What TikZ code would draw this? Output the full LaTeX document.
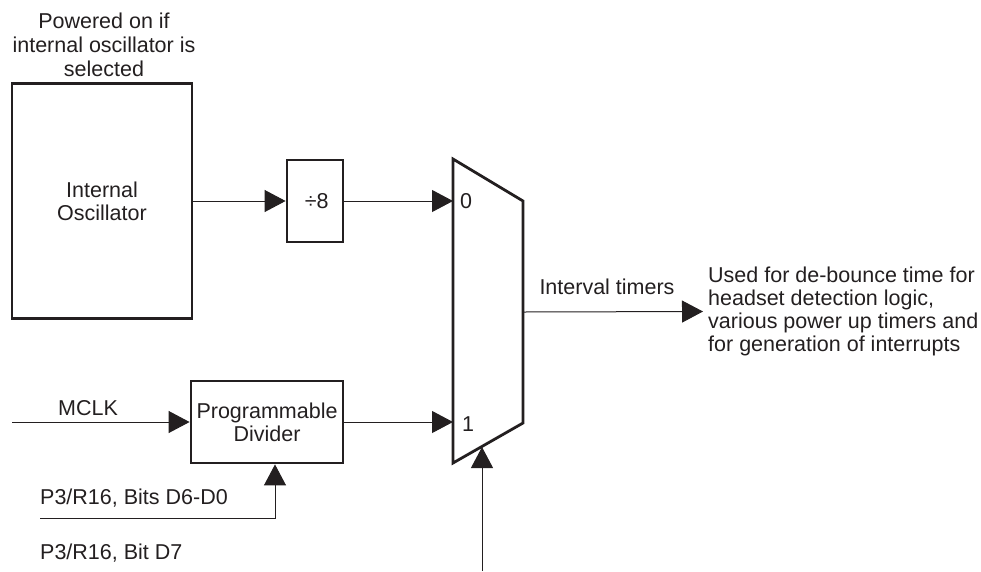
\documentclass[tikz,border=0pt]{standalone}
\usepackage{fontspec}
\setmainfont{Liberation Sans}
\usetikzlibrary{arrows.meta}
\definecolor{ink}{HTML}{231F20}
\begin{document}
\begin{tikzpicture}[x=1pt,y=-1pt,
  every node/.style={font=\fontsize{21.5}{23}\selectfont, text=ink},
  blk/.style={draw=ink, line width=2.8pt, inner sep=0pt, align=center},
  wire/.style={draw=ink, line width=1pt},
  arr/.style={wire, -{Triangle[length=21pt,width=22pt]}},
  lbl/.style={inner sep=0pt, align=center}]
\useasboundingbox (0,0) rectangle (981,571);
% blocks
\node[blk, minimum width=180pt, minimum height=235pt] (osc) at (102,201) {Internal\\Oscillator};
\node[lbl, font=\fontsize{21.5}{24}\selectfont] (pwr) at (104,45) {Powered on if\\internal oscillator is\\selected};
\node[blk, minimum width=56pt, minimum height=82pt] (div8) at (315,201) {\,÷8};
\node[blk, minimum width=152pt, minimum height=82pt] (pdiv) at (267,422) {Programmable\\Divider};
% mux
\coordinate (mtl) at (453,159);
\coordinate (mtr) at (523,201);
\coordinate (mbr) at (523,423);
\coordinate (mbl) at (453,463);
\draw[ink, line width=2.8pt, line join=miter] (mtl) -- (mtr) -- (mbr) -- (mbl) -- cycle;
\coordinate (m0) at (453,201);
\coordinate (m1) at (453,422);
\coordinate (mo) at (523,312);
\coordinate (msel) at (482,447);
\node[lbl, anchor=west] (l0) at (460,201) {0};
\node[lbl, anchor=west] (l1) at (462,424) {1};
% inputs
\coordinate (mclk) at (12,422);
\node[lbl] (mclkl) at (88,408) {MCLK};
\coordinate (bstart) at (40,518);
\node[lbl, anchor=west] (bitsl) at (40,498) {P3/R16, Bits D6-D0};
\node[lbl, anchor=west] (bit7l) at (40,553) {P3/R16, Bit D7};
\coordinate (sel) at (482,571);
% output
\node[lbl] (itl) at (607,287) {Interval timers};
\node[lbl, anchor=west, align=left] (desc) at (708,311.5) {Used for de-bounce time for\\headset detection logic,\\various power up timers and\\for generation of interrupts};
% connectors
\draw[arr] (osc.east) -- (div8.west);
\draw[arr] (div8.east) -- (m0);
\draw[arr] (mclk) -- (pdiv.west);
\draw[arr] (pdiv.east) -- (m1);
\draw[arr] (bstart) -| ([xshift=8pt]pdiv.south);
\draw[arr] (sel) -- (msel);
\draw[arr] (mo) -- ([xshift=-5pt]desc.west);
\end{tikzpicture}
\end{document}
